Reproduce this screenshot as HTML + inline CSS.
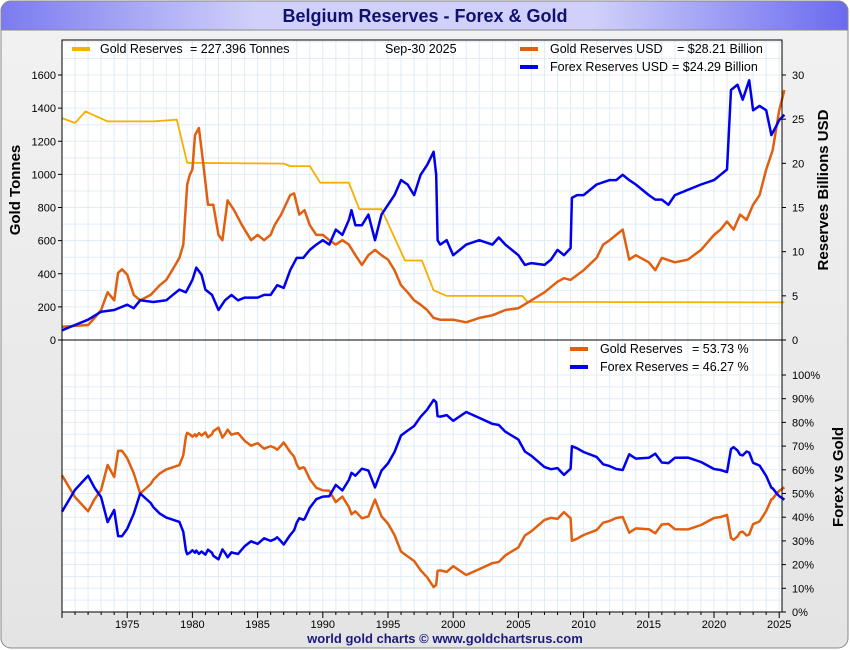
<!DOCTYPE html>
<html><head><meta charset="utf-8"><style>
body{margin:0;width:850px;height:650px;overflow:hidden;background:#fff;font-family:"Liberation Sans",sans-serif}
svg{display:block}
</style></head><body>
<svg id="c" width="850" height="650" xmlns="http://www.w3.org/2000/svg">
<defs>
<linearGradient id="tg" x1="0" x2="1" y1="0" y2="0"><stop offset="0" stop-color="#7b7bf0"/><stop offset="0.3" stop-color="#d0d0fa"/><stop offset="0.7" stop-color="#d0d0fa"/><stop offset="1" stop-color="#6a6af0"/></linearGradient>
<linearGradient id="bg" x1="0" x2="0" y1="0" y2="1"><stop offset="0" stop-color="#f2f2f2"/><stop offset="1" stop-color="#e4e4e4"/></linearGradient>
</defs>
<rect x="1" y="1" width="847" height="647" rx="10" fill="url(#bg)" stroke="#888"/>
<path d="M1 30 V11 A10 10 0 0 1 11 1 H838 A10 10 0 0 1 848 11 V30 Z" fill="url(#tg)" stroke="#888"/>
<text x="425" y="22" text-anchor="middle" font-size="18" font-weight="bold" fill="#10106e">Belgium Reserves - Forex &amp; Gold</text>
<rect x="62" y="40" width="720" height="572" fill="#fff"/>
<g id="grid"></g>
<g id="series"></g>
<rect x="62" y="40" width="720" height="572" fill="none" stroke="#000"/>
<line x1="62" x2="782" y1="340" y2="340" stroke="#000"/>
<g id="axes" font-size="11" fill="#000"></g>
<text transform="translate(20,190) rotate(-90)" text-anchor="middle" font-size="15" font-weight="bold">Gold Tonnes</text>
<text transform="translate(828,190) rotate(-90)" text-anchor="middle" font-size="15" font-weight="bold">Reserves Billions USD</text>
<text transform="translate(843,477) rotate(-90)" text-anchor="middle" font-size="15" font-weight="bold">Forex vs Gold</text>
<text x="445" y="643" text-anchor="middle" font-size="13" font-weight="bold" fill="#1a1a80">world gold charts © www.goldchartsrus.com</text>
<g font-size="12.5">
<rect x="72" y="47" width="18" height="4" fill="#f5b000"/>
<text x="100" y="53">Gold Reserves</text>
<text x="190" y="53">= 227.396 Tonnes</text>
<text x="385" y="53">Sep-30  2025</text>
<rect x="520" y="47" width="18" height="4" fill="#e06010"/>
<text x="550" y="53">Gold Reserves USD</text>
<text x="677" y="53">= $28.21 Billion</text>
<rect x="520" y="65" width="18" height="4" fill="#0000ee"/>
<text x="550" y="71">Forex Reserves USD</text>
<text x="672" y="71">= $24.29 Billion</text>
</g>
<g font-size="12.5">
<rect x="570" y="347" width="18" height="4" fill="#e06010"/>
<text x="600" y="353">Gold Reserves</text>
<text x="692" y="353">= 53.73 %</text>
<rect x="570" y="365" width="18" height="4" fill="#0000ee"/>
<text x="600" y="371">Forex Reserves</text>
<text x="692" y="371">= 46.27 %</text>
</g>
</svg>
<script>
const tonYears=[1970,1971,1971.8,1973.5,1977,1978.8,1979.6,1987,1987.5,1989,1989.8,1992,1992.8,1994.5,1996.3,1997.6,1998.5,1999.5,2005.3,2005.7,2025.6];
const tonValues=[1340,1310,1380,1320,1320,1330,1070,1065,1050,1050,950,950,790,790,480,480,300,266,266,230,227];
const goldYears=[1970,1972,1972.5,1973,1973.5,1974,1974.3,1974.6,1975,1975.5,1976,1976.8,1977.5,1978,1978.5,1979,1979.3,1979.6,1979.8,1980,1980.2,1980.5,1980.8,1981.2,1981.6,1982,1982.3,1982.7,1983.2,1983.8,1984.5,1985,1985.5,1986,1986.3,1986.8,1987.5,1987.8,1988.2,1988.6,1989,1989.5,1990,1990.5,1991,1991.5,1992,1992.5,1993,1993.5,1994,1994.5,1995,1995.5,1996,1996.5,1997,1997.5,1998,1998.5,1999,2000,2001,2002,2003,2004,2005,2006,2007,2008,2008.5,2009,2010,2011,2011.5,2012,2012.5,2013,2013.5,2014,2015,2015.5,2016,2017,2018,2019,2020,2020.5,2021,2021.5,2022,2022.5,2023,2023.5,2024,2024.5,2025,2025.6];
const goldUsd=[1.5,1.7,2.5,3.4,5.4,4.5,7.6,8,7.4,5.1,4.5,5.1,6.2,6.8,8,9.3,10.8,17.6,18.7,19.3,23.2,24,20.4,15.3,15.3,11.9,11.3,15.8,14.7,13,11.3,11.9,11.3,11.9,13,14.2,16.4,16.6,14.2,14.7,13,11.9,11.9,11.3,10.8,11.3,10.8,9.6,8.5,9.6,10.2,9.6,9.1,7.9,6.2,5.4,4.5,4,3.4,2.5,2.3,2.3,2,2.5,2.8,3.4,3.6,4.5,5.4,6.6,7,6.8,7.9,9.3,10.8,11.3,11.9,12.5,9.1,9.6,8.8,7.9,9.3,8.8,9.1,10.2,11.9,12.5,13.4,12.5,14.2,13.6,15.3,16.4,19.3,21.5,26,28.3];
const forexYears=[1970,1971,1972,1973,1974,1975,1975.5,1976,1977,1978,1978.5,1979,1979.5,1980,1980.3,1980.7,1981,1981.5,1982,1982.5,1983,1983.5,1984,1985,1985.5,1986,1986.5,1987,1987.5,1988,1988.5,1989,1989.5,1990,1990.5,1991,1991.5,1992,1992.2,1992.5,1993,1993.5,1994,1994.5,1995,1995.5,1996,1996.5,1997,1997.5,1998,1998.5,1998.7,1998.8,1999,1999.5,2000,2001,2002,2003,2003.5,2004,2005,2005.5,2006,2007,2007.5,2008,2008.5,2009,2009.1,2009.5,2010,2011,2012,2012.5,2013,2013.5,2014,2015,2015.5,2016,2016.5,2017,2018,2019,2020,2020.5,2021,2021.3,2021.8,2022.2,2022.7,2023,2023.5,2024,2024.4,2024.8,2025,2025.6];
const forexUsd=[1.1,1.7,2.3,3.2,3.4,4,3.6,4.5,4.3,4.5,5.1,5.7,5.4,6.8,8.2,7.4,5.7,5.1,3.4,4.5,5.1,4.5,4.8,4.8,5.1,5.1,6.2,5.9,7.9,9.3,9.3,10.2,10.8,11.3,10.8,12.5,11.9,13.6,14.7,13,13,14.2,11.3,14.2,15.3,16.4,18.1,17.6,16.4,18.7,19.8,21.3,18.7,11.3,10.8,11.3,9.6,10.8,11.3,10.8,11.6,10.8,9.6,8.5,8.7,8.5,9.1,10.2,9.6,10.4,16.1,16.4,16.4,17.6,18.1,18.1,18.7,18.1,17.6,16.4,15.9,15.9,15.3,16.4,17,17.6,18.1,18.7,19.3,28.3,28.9,27.2,29.4,26,26.5,26,23.2,24.3,24.9,25.5];
const tonTicks=[0,200,400,600,800,1000,1200,1400,1600];
const usdTicks=[0,5,10,15,20,25,30];
const pctTicks=[0,10,20,30,40,50,60,70,80,90,100];
const yearTicks=[1975,1980,1985,1990,1995,2000,2005,2010,2015,2020,2025];

const NS="http://www.w3.org/2000/svg";
const X=y=>62+(y-1970)*13.04;
const YT=t=>340-t*265/1600;
const YU=u=>340-u*265/30;
const YP=p=>612-p*2.37;
function mk(tag,attrs,parent){const e=document.createElementNS(NS,tag);for(const k in attrs)e.setAttribute(k,attrs[k]);parent.appendChild(e);return e;}
const grid=document.getElementById('grid'),axes=document.getElementById('axes'),ser=document.getElementById('series');
for(let y=1970;y<=2025;y++){const gl=mk('line',{x1:X(y),x2:X(y),y1:40,y2:612,stroke:'#e0ecf6'},grid);


const tk=mk('line',{x1:X(y),x2:X(y),y1:612,y2:y%5===0?618:615,stroke:'#000'},axes);

}
for(let t=100;t<=1800;t+=100){if(YT(t)<41)break;const gl=mk('line',{x1:62,x2:782,y1:YT(t),y2:YT(t),stroke:'#e0ecf6'},grid);

}
for(let p=5;p<=100;p+=5){const gl=mk('line',{x1:62,x2:782,y1:YP(p),y2:YP(p),stroke:'#e0ecf6'},grid);

}
tonTicks.forEach(t=>{const tx=mk('text',{x:56,y:YT(t)+4,'text-anchor':'end'},axes);tx.textContent=t;


mk('line',{x1:58,x2:62,y1:YT(t),y2:YT(t),stroke:'#000'},axes);});
usdTicks.forEach(u=>{const tx=mk('text',{x:792,y:YU(u)+4},axes);tx.textContent=u;


mk('line',{x1:782,x2:786,y1:YU(u),y2:YU(u),stroke:'#000'},axes);});
pctTicks.forEach(p=>{const tx=mk('text',{x:792,y:YP(p)+4},axes);tx.textContent=p+'%';


mk('line',{x1:782,x2:786,y1:YP(p),y2:YP(p),stroke:'#000'},axes);});
yearTicks.forEach(y=>{const tx=mk('text',{x:X(y),y:628,'text-anchor':'middle'},axes);tx.textContent=y;

});
function interp(xs,vs,x){if(x<=xs[0])return vs[0];for(let i=1;i<xs.length;i++){if(x<=xs[i]){const f=(x-xs[i-1])/(xs[i]-xs[i-1]);return vs[i-1]+f*(vs[i]-vs[i-1]);}}return vs[vs.length-1];}
function line(xs,vs,yf,color,w,name){const d=xs.map((x,i)=>(i?'L':'M')+X(Math.min(x,2025.4)).toFixed(1)+' '+yf(vs[i]).toFixed(1)).join(' ');
const p=mk('path',{d:d,fill:'none',stroke:color,'stroke-width':w,'stroke-linejoin':'round'},ser);

}
line(tonYears,tonValues,YT,'#f5b000',1.8,'gold-tonnes-line');
line(goldYears,goldUsd,YU,'#e06010',2.5,'gold-usd-line');
line(forexYears,forexUsd,YU,'#0000ee',2.5,'forex-usd-line');
const allYears=[...new Set([...goldYears,...forexYears])].sort((a,b)=>a-b);
const gp=allYears.map(y=>{const g=interp(goldYears,goldUsd,y),f=interp(forexYears,forexUsd,y);return 100*g/(g+f);});
const fp=gp.map(v=>100-v);
line(allYears,gp,YP,'#e06010',2.5,'gold-percent-line');
line(allYears,fp,YP,'#0000ee',2.5,'forex-percent-line');
</script>
</body></html>
